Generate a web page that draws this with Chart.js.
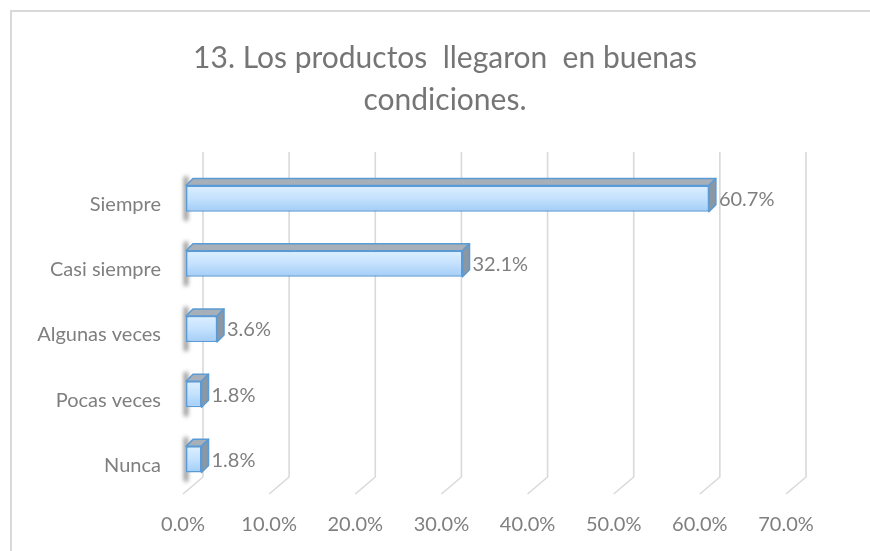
<!DOCTYPE html>
<html lang="es">
<head>
<meta charset="UTF-8">
<title>13. Los productos llegaron en buenas condiciones.</title>
<script src="https://cdn.jsdelivr.net/npm/chart.js"></script>
<style>
    html, body { margin: 0; padding: 0; background: #ffffff; overflow: hidden; }
    #wrap { position: relative; width: 870px; height: 551px; }
    #frame { position: absolute; left: 10px; top: 10px; width: 900px; height: 600px; border: 2px solid #d9d9d9; box-sizing: border-box; }
    #chart { position: absolute; left: 0; top: 0; }
</style>
</head>
<body>
<div id="wrap">
    <div id="frame"></div>
    <canvas id="chart" width="870" height="551"></canvas>
</div>
<script>
const titleLines = ['13. Los productos  llegaron  en buenas', 'condiciones.'];
const categories = ['Siempre', 'Casi siempre', 'Algunas veces', 'Pocas veces', 'Nunca'];
const percentages = [60.7, 32.1, 3.6, 1.8, 1.8];
const axisMin = 0;
const axisMax = 70;
const axisStep = 10;

const FONT = 'Lato, "Open Sans", sans-serif';
const DEPTH = 7;          // 3d offset of bar top/side faces
const WALL_DX = 20;       // back wall offset
const WALL_DY = 17;
const WALL_TOP = 152;
const GRID = '#d9d9d9';

function barHalf(chart) {
    const ys = chart.scales.y;
    const step = Math.abs(ys.getPixelForValue(1) - ys.getPixelForValue(0));
    return step * 0.4 / 2;
}

const bars3d = {
    id: 'bars3d',
    beforeDatasetsDraw(chart) {
        const { ctx, chartArea, scales } = chart;
        const xs = scales.x;
        const floorY = chartArea.bottom + 2;
        ctx.save();
        ctx.strokeStyle = GRID;
        ctx.lineWidth = 1.6;
        for (let v = axisMin; v <= axisMax; v += axisStep) {
            const fx = xs.getPixelForValue(v) - 3;
            const bx = fx + WALL_DX;
            ctx.beginPath();
            ctx.moveTo(fx, floorY);
            ctx.lineTo(bx, floorY - WALL_DY);
            ctx.lineTo(bx, WALL_TOP);
            ctx.stroke();
        }
        // soft shadow of bars on the wall
        const meta = chart.getDatasetMeta(0);
        const half = barHalf(chart);
        ctx.filter = 'blur(2px)';
        ctx.fillStyle = 'rgba(40,40,40,0.55)';
        meta.data.forEach(el => {
            const p = el.getProps(['y', 'base'], true);
            ctx.fillRect(p.base - 2, p.y - half - 9, 4, half * 2 + 18);
        });
        ctx.restore();
    },
    afterDatasetsDraw(chart) {
        const { ctx } = chart;
        const meta = chart.getDatasetMeta(0);
        const half = barHalf(chart);
        ctx.save();
        ctx.lineJoin = 'round';
        ctx.lineWidth = 1.5;
        ctx.strokeStyle = '#5b9bd5';
        meta.data.forEach((el, i) => {
            const p = el.getProps(['x', 'y', 'base'], true);
            const x0 = p.base, x1 = p.x, top = p.y - half, bot = p.y + half;
            // top face
            ctx.fillStyle = '#a7afb8';
            ctx.beginPath();
            ctx.moveTo(x0, top);
            ctx.lineTo(x0 + DEPTH, top - DEPTH);
            ctx.lineTo(x1 + DEPTH, top - DEPTH);
            ctx.lineTo(x1, top);
            ctx.closePath();
            ctx.fill();
            ctx.stroke();
            // side face
            ctx.fillStyle = '#8a97a4';
            ctx.beginPath();
            ctx.moveTo(x1, top);
            ctx.lineTo(x1 + DEPTH, top - DEPTH);
            ctx.lineTo(x1 + DEPTH, bot - DEPTH);
            ctx.lineTo(x1, bot);
            ctx.closePath();
            ctx.fill();
            ctx.stroke();
            // value label
            ctx.fillStyle = '#7f7f7f';
            ctx.font = '20px ' + FONT;
            ctx.textAlign = 'left';
            ctx.textBaseline = 'middle';
            ctx.fillText(percentages[i].toFixed(1) + '%', x1 + DEPTH + 3, p.y + 1);
        });
        ctx.restore();
    }
};

new Chart(document.getElementById('chart'), {
    type: 'bar',
    data: {
        labels: categories,
        datasets: [{
            data: percentages,
            yAxisID: 'y',
            backgroundColor: (c) => {
                const chart = c.chart;
                if (!chart.chartArea || !chart.scales.y) return '#bfdefb';
                const yc = chart.scales.y.getPixelForValue(c.dataIndex);
                const half = barHalf(chart);
                const g = chart.ctx.createLinearGradient(0, yc - half, 0, yc + half);
                g.addColorStop(0, '#dcefff');
                g.addColorStop(0.5, '#c4e1fd');
                g.addColorStop(1, '#a2cdf7');
                return g;
            },
            borderColor: '#5b9bd5',
            borderWidth: 1.5,
            borderSkipped: false,
            categoryPercentage: 1,
            barPercentage: 0.4
        }]
    },
    options: {
        indexAxis: 'y',
        responsive: false,
        animation: false,
        layout: { padding: { left: 20, right: 0, top: 0, bottom: 0 } },
        plugins: {
            legend: { display: false },
            tooltip: { enabled: false },
            title: {
                display: true,
                text: titleLines,
                color: '#757575',
                font: { family: FONT, size: 30, weight: 'normal', lineHeight: 1.4 },
                padding: { top: 37, bottom: 45 }
            }
        },
        scales: {
            x: {
                min: axisMin,
                max: axisMax,
                grid: { display: false, drawTicks: false },
                border: { display: false },
                ticks: {
                    stepSize: axisStep,
                    padding: 21,
                    labelOffset: -3,
                    color: '#7f7f7f',
                    font: { family: FONT, size: 20 },
                    callback: v => Number(v).toFixed(1) + '%'
                },
                afterFit: s => { s.height = 59; }
            },
            y: {
                grid: { display: false, drawTicks: false },
                border: { display: false },
                ticks: {
                    padding: 25,
                    labelOffset: 6,
                    color: '#7f7f7f',
                    font: { family: FONT, size: 20 }
                },
                afterFit: s => { s.width = 166; }
            },
            // empty right margin, keeps the plot where the reference has it
            yr: {
                type: 'linear',
                position: 'right',
                grid: { display: false, drawTicks: false },
                border: { display: false },
                ticks: { display: false },
                afterFit: s => { s.width = 81; }
            }
        }
    },
    plugins: [bars3d]
});
</script>
</body>
</html>
